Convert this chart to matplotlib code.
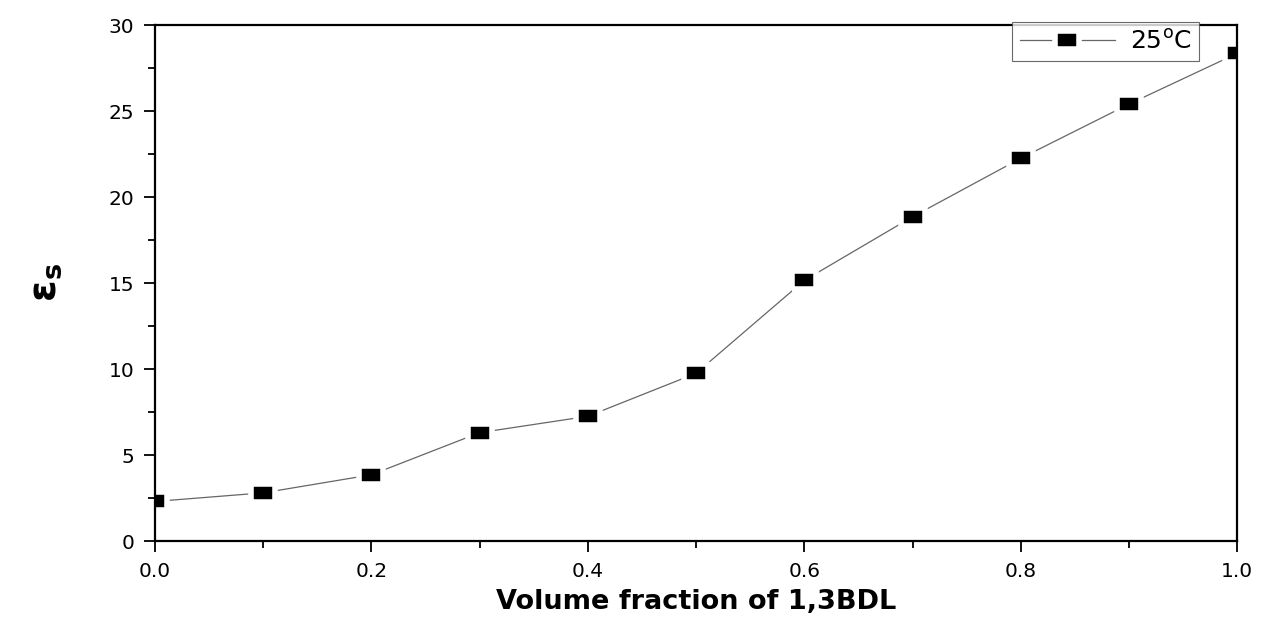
import matplotlib
matplotlib.use("Agg")
import matplotlib.pyplot as plt
import numpy as np

plt.rcParams['font.family'] = ['DejaVu Sans']
plt.rcParams['mathtext.fontset'] = 'dejavusans'

# datos
fraccion = [0.0, 0.1, 0.2, 0.3, 0.4, 0.5, 0.6, 0.7, 0.8, 0.9, 1.0]
eps_s = [2.3, 2.8, 3.85, 6.3, 7.25, 9.75, 15.15, 18.85, 22.25, 25.4, 28.35]

fig = plt.figure(figsize=(12.61, 6.19), dpi=100)
ax = fig.add_axes([0.1229, 0.126, 0.8582, 0.8336])

# marcador rectangular estilo Origin, con hueco blanco alrededor
rect = [(-1.35, -1), (1.35, -1), (1.35, 1), (-1.35, 1), (-1.35, -1)]
ax.plot(fraccion, eps_s, color='#666666', lw=0.9, marker=rect, ms=17,
        mfc='black', mec='white', mew=4, label=r'25$^\mathregular{o}$C')

ax.set_xlim(0, 1.0)
ax.set_ylim(0, 30)
ax.set_xticks(np.arange(0, 1.01, 0.2))
ax.set_xticks(np.arange(0.1, 1.0, 0.2), minor=True)
ax.set_yticks(np.arange(0, 31, 5))
ax.set_yticks(np.arange(2.5, 30, 5), minor=True)
ax.xaxis.set_major_formatter(plt.FormatStrFormatter('%.1f'))

ax.tick_params(which='both', direction='out', top=False, right=False, width=1.3)
ax.tick_params(which='major', length=8, labelsize=14.5, pad=7)
ax.tick_params(which='minor', length=5)
for s in ax.spines.values():
    s.set_linewidth(1.6)

ax.set_xlabel('Volume fraction of 1,3BDL', fontsize=19.5, fontweight='bold', labelpad=6)
ax.set_ylabel(r'$\mathbf{\varepsilon_s}$', fontsize=28, labelpad=32)

leg = ax.legend(loc='upper right', bbox_to_anchor=(0.9645, 1.006), fontsize=18,
                frameon=True, fancybox=False, edgecolor='#444444', handlelength=3.8,
                borderpad=0.3, handletextpad=0.6, borderaxespad=0)
leg.get_frame().set_linewidth(0.8)

fig.savefig('out.png', dpi=100)
